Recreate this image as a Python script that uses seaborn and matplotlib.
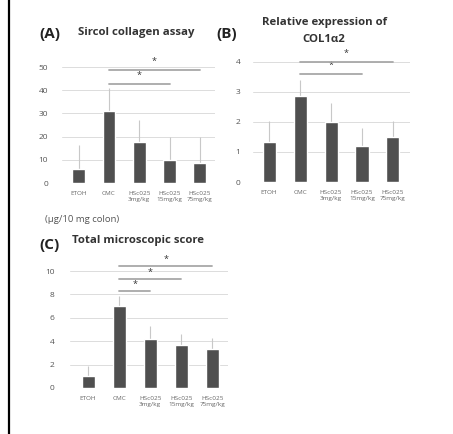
import matplotlib
matplotlib.use("Agg")
import matplotlib.pyplot as plt
import seaborn as sns
import pandas as pd
import numpy as np

sns.set_theme(style="white")
plt.rcParams['font.family'] = ['Open Sans', 'DejaVu Sans']

groups = ["ETOH", "CMC", "HSc025\n3mg/kg", "HSc025\n15mg/kg", "HSc025\n75mg/kg"]

collagen = [6.0, 31.0, 17.5, 10.0, 8.5]
collagen_err = [10.5, 10.0, 9.5, 10.0, 11.5]

col1a2 = [1.35, 2.88, 2.0, 1.21, 1.51]
col1a2_err = [0.69, 0.52, 0.62, 0.58, 0.53]

micro = [1.0, 7.0, 4.2, 3.7, 3.3]
micro_err = [0.9, 0.85, 1.1, 0.9, 0.95]

# significance: (start idx, end idx, y)
sig_a = [(1, 4, 48.5), (1, 3, 42.5)]
sig_b = [(1, 4, 4.0), (1, 3, 3.6)]
sig_c = [(1, 4, 10.4), (1, 3, 9.35), (1, 2, 8.3)]

W, H = 453, 434
fig = plt.figure(figsize=(W / 100, H / 100), dpi=100)

def rect(l, r, b, t):
    return [l / W, 1 - b / H, (r - l) / W, (b - t) / H]

bar_color = "#4f4f4f"
grid_color = "#dcdcdc"

def panel(r, vals, errs, ylim, yticks, xlim, sig, star_off, pad):
    ax = fig.add_axes(r)
    df = pd.DataFrame({"group": groups, "value": vals})
    sns.barplot(data=df, x="group", y="value", color=bar_color, width=0.42,
                errorbar=None, ax=ax, zorder=3, saturation=1)
    x = np.arange(len(vals))
    ax.errorbar(x, vals, yerr=[np.zeros(len(vals)), errs], fmt="none",
                ecolor="#c8c8c8", elinewidth=0.8, capsize=0, zorder=2)
    ax.set_ylim(*ylim)
    ax.set_xlim(*xlim)
    ax.set_yticks(yticks)
    ax.set_yticklabels([str(v) for v in yticks])
    for v in yticks:
        ax.axhline(v, color=grid_color, lw=0.7, zorder=1)
    for s in ax.spines.values():
        s.set_visible(False)
    ax.set_xlabel("")
    ax.set_ylabel("")
    ax.tick_params(axis="y", length=0, labelsize=6, pad=pad, labelcolor="#555555")
    ax.tick_params(axis="x", length=0, labelsize=4.6, pad=5.5, labelcolor="#666666")
    for lbl in ax.get_xticklabels():
        lbl.set_linespacing(1.45)
    for (a, b, y) in sig:
        ax.plot([a, b], [y, y], color="#a8a8a8", lw=1.3, clip_on=False, zorder=4)
        ax.text((a + b) / 2, y + star_off, "*", ha="center", va="center",
                fontsize=6.5, color="#333333", clip_on=False)
    return ax

axA = panel(rect(62, 215, 183, 67), collagen, collagen_err, (0, 50),
            [0, 10, 20, 30, 40, 50], (-0.55, 4.5), sig_a, 4.0, 10)
axB = panel(rect(253, 410, 182, 62), col1a2, col1a2_err, (0, 4),
            [0, 1, 2, 3, 4], (-0.52, 4.55), sig_b, 0.3, 9)
axC = panel(rect(70, 228, 388, 271), micro, micro_err, (0, 10),
            [0, 2, 4, 6, 8, 10], (-0.58, 4.5), sig_c, 0.55, 11)

def ftext(x, y, s, **kw):
    fig.text(x / W, 1 - y / H, s, **kw)

title_kw = dict(fontsize=8.2, fontweight="bold", va="center", color="#333333")
lab_kw = dict(fontsize=11, fontweight="bold", va="center", color="#222222")
ftext(39, 34, "(A)", **lab_kw)
ftext(78, 33, "Sircol collagen assay", **title_kw)
ftext(216, 34, "(B)", **lab_kw)
ftext(324, 23, "Relative expression of", ha="center", **title_kw)
ftext(324, 40, "COL1α2", ha="center", **title_kw)
ftext(39, 245, "(C)", **lab_kw)
ftext(72, 241, "Total microscopic score", **title_kw)
ftext(45, 220, "(μg/10 mg colon)", fontsize=6.8, va="center", color="#555555")

fig.add_artist(plt.Line2D([9 / W, 9 / W], [0, 1], color="black", lw=1.6))

fig.savefig("out.png", dpi=100, facecolor="white")
